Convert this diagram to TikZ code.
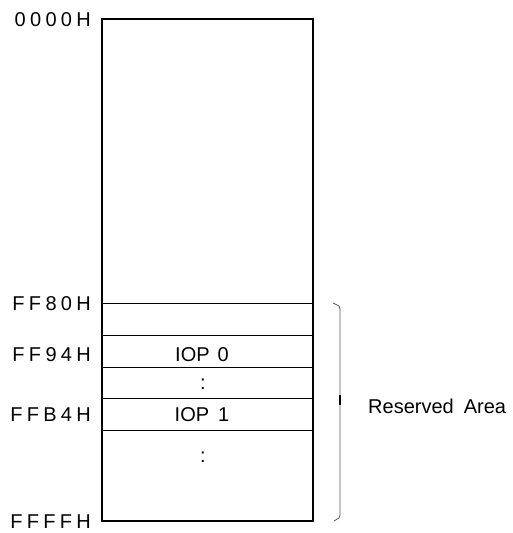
\documentclass[tikz,border=0pt]{standalone}
\usepackage{fontspec}
\setmainfont{Liberation Sans}
\newcommand{\lsp}{\kern4.3pt}

\begin{document}
\begin{tikzpicture}[x=1pt,y=-1pt,
  addr/.style={anchor=east,inner sep=1pt,font=\fontsize{20}{22}\selectfont},
  cell/.style={inner sep=0pt,font=\fontsize{20}{22}\selectfont}]
\useasboundingbox (0,0) rectangle (512,533);

% memory block and its rows
\draw[line width=2.2pt] (102,19) rectangle (313,521);
\foreach \y in {303,335,367,398,430}
  \draw[line width=0.8pt] (102,\y) -- (313,\y);

% addresses
\node[addr] (a0000) at (92,20) {0\lsp 0\lsp 0\lsp 0\lsp H};
\node[addr] (aff80) at (92,304) {F\lsp F\lsp 8\lsp 0\lsp H};
\node[addr] (aff94) at (92,355) {F\lsp F\lsp 9\lsp 4\lsp H};
\node[addr] (affb4) at (92,415) {F\lsp F\lsp B\lsp 4\lsp H};
\node[addr] (affff) at (92,522) {F\lsp F\lsp F\lsp F\lsp H};

% row contents
\node[cell] (iop0) at (202,355) {IOP\hspace{8pt}0};
\node[cell] (dots0) at (203,384) {:};
\node[cell] (iop1) at (202,415) {IOP\hspace{9pt}1};
\node[cell] (dots1) at (203,457) {:};

% reserved area brace
\draw[gray!70!black,line width=0.8pt] (333,303) -- (339,306) -- (340,309)
  -- (340,515) -- (339,518) -- (334,521);
\draw[line width=1.4pt] (340,395) -- (340,405);
\node[cell,anchor=west] (resv) at (368,406) {Reserved\hspace{10pt}Area};
\end{tikzpicture}
\end{document}
